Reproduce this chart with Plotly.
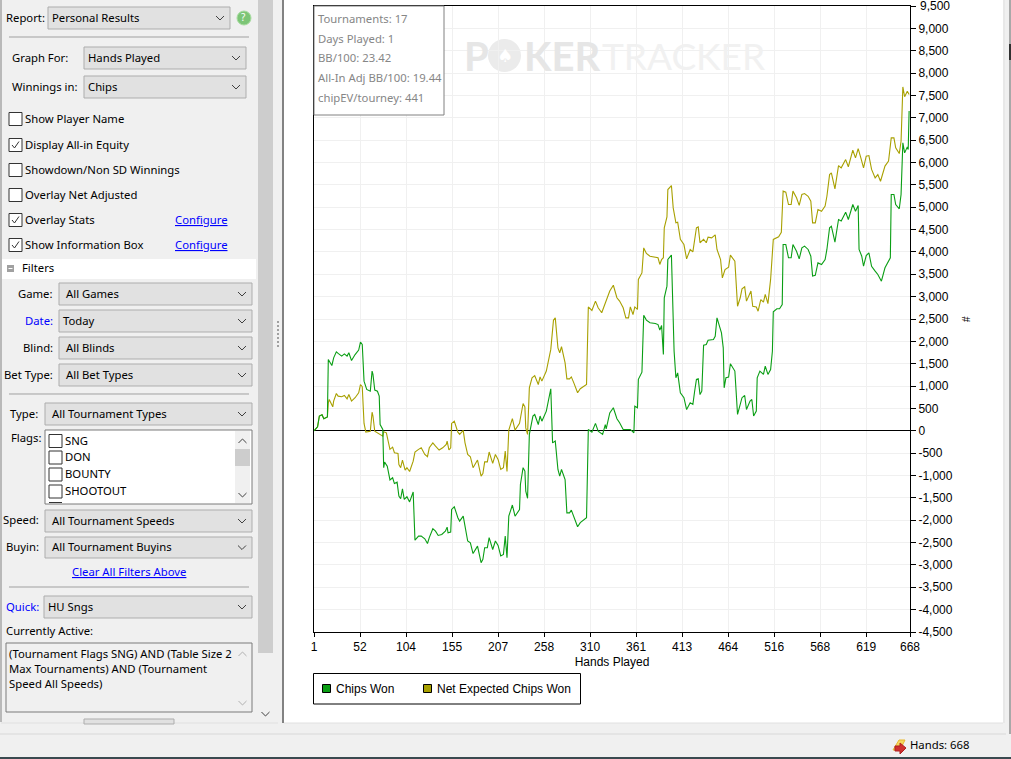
import plotly.graph_objects as go

# chart data
chips_hands = [1, 5, 7, 10, 12, 16, 17, 21, 23, 26, 28, 32, 35, 38, 40, 43, 47, 51, 53, 55, 57, 60, 64, 66, 67, 69, 72, 74, 75, 78, 79, 80, 83, 86, 89, 91, 94, 96, 98, 100, 102, 105, 108, 112, 114, 118, 121, 125, 128, 130, 134, 137, 140, 144, 148, 150, 151, 154, 155, 158, 162, 164, 168, 170, 171, 173, 176, 179, 184, 188, 190, 192, 195, 197, 201, 204, 207, 210, 213, 215, 217, 219, 223, 226, 231, 232, 235, 237, 238, 240, 242, 246, 248, 252, 254, 256, 261, 266, 268, 271, 274, 276, 278, 282, 284, 287, 289, 292, 296, 299, 306, 308, 312, 316, 319, 324, 327, 328, 332, 336, 340, 343, 347, 355, 359, 360, 363, 364, 368, 370, 373, 377, 383, 386, 388, 390, 392, 393, 396, 397, 401, 404, 406, 408, 411, 415, 418, 422, 425, 427, 429, 431, 433, 435, 437, 440, 442, 448, 450, 452, 457, 459, 460, 462, 465, 467, 472, 475, 480, 483, 485, 489, 491, 493, 496, 497, 500, 504, 506, 509, 512, 514, 515, 519, 522, 525, 526, 529, 532, 535, 537, 541, 544, 547, 550, 554, 557, 559, 562, 565, 569, 573, 575, 578, 580, 584, 588, 591, 596, 599, 604, 607, 610, 611, 614, 616, 619, 622, 625, 629, 632, 636, 640, 646, 647, 650, 652, 656, 658, 660, 662, 665, 666, 667]
chips_won = [0, 90, 330, 360, 270, 310, 1595, 1460, 1630, 1765, 1730, 1670, 1720, 1670, 1745, 1570, 1705, 1805, 1985, 1930, 1110, 925, 885, 1335, 1260, 910, 885, 775, 140, 30, -825, -700, -790, -1100, -1050, -1180, -1150, -1460, -1520, -1300, -1535, -1475, -1590, -1370, -2445, -2355, -2355, -2415, -2520, -2390, -2190, -2245, -2340, -2320, -2245, -2155, -2280, -2265, -1760, -1700, -1945, -2020, -1910, -2170, -2205, -2465, -2505, -2745, -2580, -2950, -2875, -2615, -2615, -2390, -2655, -2465, -2565, -2800, -2765, -2355, -2840, -1910, -1660, -1910, -1760, -1200, -825, -900, -1350, -1510, -80, 330, 365, 140, 330, 215, 440, 940, -270, -230, -865, -1015, -865, -1090, -1835, -1835, -1775, -1920, -2145, -2055, -1945, 30, -30, 165, -10, -80, 140, 45, 400, 515, 270, 180, 30, 30, -45, 550, 515, 1150, 1310, 2585, 2475, 2415, 2400, 2375, 2250, 2355, 1705, 2975, 3235, 3830, 3930, 1780, 1185, 1295, 850, 740, 475, 625, 590, 885, 1150, 1165, 810, 885, 1915, 1930, 2025, 2040, 2115, 2525, 2190, 1855, 960, 1185, 1200, 1500, 1335, 365, 740, 790, 475, 665, 700, 330, 440, 1185, 1335, 1260, 1445, 1260, 1370, 1780, 2660, 2730, 2730, 2825, 4165, 4165, 3870, 3870, 4165, 4015, 3845, 4090, 4130, 4055, 3905, 3460, 3475, 3755, 3720, 3830, 4055, 4540, 4575, 4220, 4725, 4690, 4890, 4725, 5060, 4910, 5040, 4055, 3905, 3680, 3920, 3980, 3680, 3570, 3495, 3345, 3645, 3870, 5285, 5285, 5060, 4965, 5285, 6440, 6215, 6350, 6290, 7150]

expected_hands = [1, 5, 7, 10, 12, 16, 17, 18, 22, 23, 26, 28, 32, 35, 38, 40, 43, 47, 51, 53, 55, 57, 59, 64, 66, 67, 69, 72, 74, 78, 79, 82, 86, 89, 91, 95, 96, 98, 100, 103, 105, 108, 112, 114, 118, 121, 125, 128, 130, 134, 137, 141, 145, 149, 150, 152, 154, 155, 158, 162, 164, 168, 170, 173, 176, 179, 184, 188, 190, 192, 195, 197, 201, 204, 207, 210, 213, 215, 217, 219, 223, 226, 231, 232, 235, 237, 238, 240, 242, 245, 248, 252, 254, 256, 261, 266, 269, 271, 274, 276, 278, 282, 284, 287, 289, 292, 296, 299, 306, 308, 312, 316, 319, 323, 327, 328, 332, 336, 340, 343, 347, 350, 353, 355, 358, 360, 363, 364, 368, 370, 373, 377, 383, 386, 388, 390, 392, 393, 396, 397, 401, 403, 406, 408, 411, 415, 418, 422, 425, 427, 429, 431, 433, 437, 440, 442, 446, 450, 452, 456, 458, 461, 465, 467, 472, 475, 478, 480, 483, 485, 490, 492, 496, 498, 501, 504, 506, 509, 512, 515, 521, 524, 526, 529, 532, 535, 537, 541, 544, 547, 550, 554, 557, 559, 562, 565, 569, 573, 575, 578, 580, 584, 588, 591, 596, 599, 604, 607, 610, 613, 616, 619, 622, 625, 629, 632, 635, 640, 644, 647, 650, 652, 656, 658, 660, 662, 665, 667]
expected_won = [0, 90, 330, 360, 270, 310, 625, 700, 535, 665, 835, 775, 760, 790, 715, 810, 665, 740, 850, 1035, 985, 165, -30, -10, 415, 330, -10, -45, -80, -120, -20, -45, -415, -365, -490, -505, -755, -825, -655, -880, -825, -910, -680, -475, -415, -380, -530, -580, -380, -270, -345, -430, -380, -305, -230, -430, -380, 165, 215, -30, -80, 10, -270, -530, -580, -825, -655, -1015, -955, -695, -695, -475, -730, -530, -640, -865, -825, -455, -910, 15, 270, 15, 165, 290, 610, 535, 65, -80, 960, 1185, 1235, 1035, 1205, 1110, 1335, 1820, 2475, 2525, 1855, 1745, 1880, 1520, 1160, 1160, 1205, 1060, 850, 940, 1035, 2770, 2690, 2900, 2750, 2640, 2845, 2935, 3125, 3255, 2975, 2900, 2750, 2525, 2525, 2770, 2600, 2770, 2715, 3385, 3530, 4090, 3965, 3905, 3890, 3870, 3720, 3830, 3870, 4540, 4785, 5395, 5485, 4985, 4650, 4665, 4280, 4165, 3845, 4055, 4000, 4265, 4540, 4560, 4205, 4280, 4205, 4330, 4315, 4380, 4055, 3830, 3420, 3605, 3660, 3930, 3795, 2785, 2975, 3175, 3220, 2900, 3125, 2785, 2770, 2675, 2935, 2875, 3050, 2845, 3385, 4280, 4340, 4440, 5360, 5335, 5060, 5060, 5360, 5210, 5040, 5285, 5305, 5245, 5135, 4650, 4650, 4950, 4910, 5025, 5245, 5730, 5770, 5410, 5930, 5880, 6065, 5905, 6275, 6105, 6310, 6105, 5880, 6140, 6155, 5845, 5655, 5730, 5580, 5920, 6030, 6550, 6550, 6330, 6200, 6475, 7690, 7470, 7595, 7520]

x_ticks = [1, 52.5, 104, 155.5, 207, 258.5, 310, 361.5, 413, 464.5, 516, 567.5, 619, 668]
x_labels = ['1', '52', '104', '155', '207', '258', '310', '361', '413', '464', '516', '568', '619', '668']
y_ticks = list(range(-4500, 10000, 500))
y_labels = ['{:,}'.format(v) for v in y_ticks]

info_lines = ['Tournaments: 17', 'Days Played: 1', 'BB/100: 23.42', 'All-In Adj BB/100: 19.44', 'chipEV/tourney: 441']

W = 1011
H = 759
GREEN = '#0A9E14'
OLIVE = '#A8A000'
UI_FONT = 'Noto Sans'
UI_SIZE = 11.3
CHART_FONT = 'Liberation Sans'

shapes = []
annotations = []


# the screenshot chrome is placed in pixels, these turn them into paper coords
def px(x):
    return x / W


def py(y):
    return 1 - y / H


def rect(x0, y0, x1, y1, fill='rgba(0,0,0,0)', line=None, width=1, layer='above'):
    shapes.append(dict(type='rect', xref='paper', yref='paper', layer=layer,
                       x0=px(x0), x1=px(x1), y0=py(y0), y1=py(y1), fillcolor=fill,
                       line=dict(color=line or 'rgba(0,0,0,0)', width=width if line else 0)))


def path(points, color='#000000', width=1, fill=None, closed=False):
    d = 'M' + ' L'.join('{:.5f},{:.5f}'.format(px(x), py(y)) for x, y in points)
    if closed:
        d += ' Z'
    shapes.append(dict(type='path', xref='paper', yref='paper', path=d, layer='above',
                       fillcolor=fill or 'rgba(0,0,0,0)',
                       line=dict(color=color, width=width)))


def label(x, y, text, color='#000000', size=UI_SIZE, font=UI_FONT, anchor='left', weight=None, **kw):
    f = dict(family=font, size=size, color=color)
    if weight:
        f['weight'] = weight
    # Noto sits a little low and right of the original UI font
    nudge = 0.7 if font == UI_FONT else 0
    annotations.append(dict(x=px(x - nudge), y=py(y - nudge), xref='paper', yref='paper', text=text,
                            showarrow=False, xanchor=anchor, yanchor='middle',
                            font=f, borderpad=0, **kw))


def chevron(cx, cy, color='#404040', half=4, up=False):
    d = -2 if up else 2
    path([(cx - half, cy - d), (cx, cy + d), (cx + half, cy - d)], color=color, width=1)


def dropdown(x0, y0, x1, y1, text, text_x):
    rect(x0, y0, x1, y1, fill='#E1E1E1', line='#ADADAD')
    label(text_x, (y0 + y1) / 2, text)
    chevron(x1 - 10, (y0 + y1) / 2)


def checkbox(x, y, text=None, checked=False, text_x=None):
    rect(x, y - 6.5, x + 13, y + 6.5, fill='#FFFFFF', line='#333333')
    if checked:
        path([(x + 3, y), (x + 5.5, y + 3), (x + 10, y - 3.5)], color='#333333', width=1)
    if text:
        label(text_x or x + 16, y, text)


def divider(y):
    path([(9, y), (249, y)], color='#A0A0A0', width=1)


# window background
rect(0, 0, W, H, fill='#F0F0F0', layer='below')
rect(284, 0, 1003, 723, fill='#FFFFFF', layer='below')
path([(283, 0), (283, 723)], color='#828282', width=2)
path([(1004, 0), (1004, 723)], color='#E0E0E0', width=1)
path([(284, 723), (1003, 723)], color='#E0E0E0', width=1)
path([(0, 734), (1006, 734)], color='#D8D8D8', width=1)
path([(1010, 0), (1010, 734)], color='#A8A8A8', width=2)
rect(1009, 44, 1011, 60, fill='#303030')
rect(0, 757, W, H, fill='#3A4A50')

# left panel
path([(1, 0), (1, 722)], color='#828282', width=1)
path([(1, 723), (278, 723)], color='#E0E0E0', width=1)
rect(258, 0, 273, 653, fill='#CDCDCD')
chevron(265.5, 714, color='#404040')
for dot_y in range(321, 349, 4):
    rect(277, dot_y, 279, dot_y + 2, fill='#A0A0A0')

label(6, 18, 'Report:')
dropdown(48, 7, 230, 29, 'Personal Results', 52)
shapes.append(dict(type='circle', xref='paper', yref='paper', x0=px(237), x1=px(251),
                   y0=py(11), y1=py(25), fillcolor='#7CC576', line=dict(color='#A8DCA0', width=1)))
label(244, 18, '?', color='#FFFFFF', size=10, anchor='center')
divider(37)

label(12, 58, 'Graph For:')
dropdown(84, 47, 246, 69, 'Hands Played', 88)
label(12, 87, 'Winnings in:')
dropdown(84, 76, 246, 98, 'Chips', 88)

checkbox(9, 119, 'Show Player Name')
checkbox(9, 145, 'Display All-in Equity', checked=True)
checkbox(9, 170, 'Showdown/Non SD Winnings')
checkbox(9, 195, 'Overlay Net Adjusted')
checkbox(9, 220, 'Overlay Stats', checked=True)
checkbox(9, 245, 'Show Information Box', checked=True)
label(175, 220, '<u>Configure</u>', color='#0000FF')
label(175, 245, '<u>Configure</u>', color='#0000FF')

rect(2, 259, 256, 279, fill='#FFFFFF')
rect(7, 265, 14, 272, fill='#A0A0A0')
path([(8.5, 268.5), (12.5, 268.5)], color='#FFFFFF', width=1)
label(22, 268, 'Filters')

label(55, 294, 'Game:', anchor='right')
dropdown(59, 283, 252, 305, 'All Games', 66)
label(55, 321, 'Date:', color='#0000FF', anchor='right')
dropdown(59, 310, 252, 332, 'Today', 63)
label(55, 348, 'Blind:', anchor='right')
dropdown(59, 337, 252, 359, 'All Blinds', 66)
label(55, 375, 'Bet Type:', anchor='right')
dropdown(59, 364, 252, 386, 'All Bet Types', 66)
divider(394)

label(40, 414, 'Type:', anchor='right')
dropdown(45, 403, 252, 425, 'All Tournament Types', 52)
label(11, 438, 'Flags:')
rect(45, 430, 252, 504, fill='#FFFFFF', line='#7A7A7A')
rect(235, 431, 250, 503, fill='#F0F0F0')
rect(235, 449, 250, 466, fill='#CDCDCD')
chevron(242.5, 441, up=True)
chevron(242.5, 495)
checkbox(49, 441, 'SNG')
checkbox(49, 457.5, 'DON')
checkbox(49, 474.5, 'BOUNTY')
checkbox(49, 491.5, 'SHOOTOUT')
path([(49, 502.5), (62, 502.5)], color='#333333', width=1)

label(41, 520, 'Speed:', anchor='right')
dropdown(45, 510, 252, 532, 'All Tournament Speeds', 52)
label(41, 547, 'Buyin:', anchor='right')
dropdown(45, 537, 252, 558, 'All Tournament Buyins', 52)
label(130, 572, '<u>Clear All Filters Above</u>', color='#0000FF', anchor='center')
divider(587)

label(6, 607, 'Quick:', color='#0000FF')
dropdown(44, 596, 252, 618, 'HU Sngs', 48)
label(6, 631, 'Currently Active:')
rect(6, 643, 252, 712, fill='#F0F0F0', line='#7A7A7A')
label(9, 654, '(Tournament Flags SNG) AND (Table Size 2')
label(9, 669, 'Max Tournaments) AND (Tournament')
label(9, 684, 'Speed All Speeds)')
chevron(242.5, 654, color='#B0B0B0', up=True)
chevron(242.5, 703, color='#B0B0B0')
rect(84, 719, 174, 724, fill='#E1E1E1', line='#ADADAD')

# status bar
path([(893, 750), (899, 740), (905, 740), (900, 750)], color='#E8B830', width=1, fill='#F5D860', closed=True)
path([(895, 746), (900, 746), (900, 743), (906, 748), (900, 754), (900, 751), (895, 751)],
     color='#B02020', width=1, fill='#D03030', closed=True)
label(910, 745, 'Hands: 668')

# watermark behind the lines
label(463, 56, 'P', color='#E6E6E6', size=40, font='Lato', weight='bold')
shapes.append(dict(type='circle', xref='paper', yref='paper', layer='below', x0=px(488), x1=px(521),
                   y0=py(39), y1=py(72), fillcolor='#EBEBEB', line=dict(width=0)))
label(504.5, 56, '♠', color='#FFFFFF', size=18, font='DejaVu Sans', anchor='center')
label(523, 56, 'KER', color='#E6E6E6', size=40, font='Lato', weight='bold')
label(601, 56, 'TRACKER', color='#F1F1F1', size=37, font='Lato')

# information box
rect(314, 6, 444, 115, fill='#FFFFFF', line='#808080')
for i, line in enumerate(info_lines):
    label(318, 19 + i * 19.8, line, color='#868686')

# legend box
rect(313.5, 673.5, 580.5, 704, fill='#FFFFFF', line='#000000')
rect(322.5, 684.5, 330.5, 692.5, fill=GREEN, line='#000000')
label(335, 689, 'Chips Won', font=CHART_FONT, size=12)
rect(423.5, 684.5, 431.5, 692.5, fill=OLIVE, line='#000000')
label(436, 689, 'Net Expected Chips Won', font=CHART_FONT, size=12)

label(966, 319, '#', font=CHART_FONT, size=10, anchor='center', textangle=-90)
# plotly drops the top tick label, it would touch the page edge
label(918.5, 6.5, y_labels[-1], font=CHART_FONT, size=12)

fig = go.Figure()
fig.add_trace(go.Scatter(x=expected_hands, y=expected_won, mode='lines', name='Net Expected Chips Won',
                         line=dict(color=OLIVE, width=1.1)))
fig.add_trace(go.Scatter(x=chips_hands, y=chips_won, mode='lines', name='Chips Won',
                         line=dict(color=GREEN, width=1.1)))

fig.update_layout(
    width=W, height=H,
    margin=dict(l=0, r=0, t=0, b=0, autoexpand=False),
    paper_bgcolor='#F0F0F0',
    plot_bgcolor='rgba(0,0,0,0)',
    showlegend=False,
    shapes=shapes,
    annotations=annotations,
    font=dict(family=CHART_FONT, size=12, color='#000000'),
    xaxis=dict(domain=[px(314), px(910)], range=[1, 668], tickmode='array',
               tickvals=x_ticks, ticktext=x_labels, ticks='outside', ticklen=4,
               tickcolor='#000000', showline=True, linecolor='#000000', linewidth=1,
               mirror=True, gridcolor='#F0F0F0', gridwidth=1, zeroline=False,
               title=dict(text='Hands Played', font=dict(size=12), standoff=4)),
    yaxis=dict(domain=[py(632), py(6)], range=[-4500, 9500], side='right', tickmode='array',
               tickvals=y_ticks, ticktext=y_labels, ticks='outside', ticklen=5,
               tickcolor='#000000', showline=True, linecolor='#000000', linewidth=1,
               mirror=True, gridcolor='#F0F0F0', gridwidth=1, zeroline=True,
               zerolinecolor='#000000', zerolinewidth=1),
)

fig.write_html("out.html", config={'displayModeBar': False},
               post_script="document.body.style.margin='0';document.body.style.overflow='hidden';")
